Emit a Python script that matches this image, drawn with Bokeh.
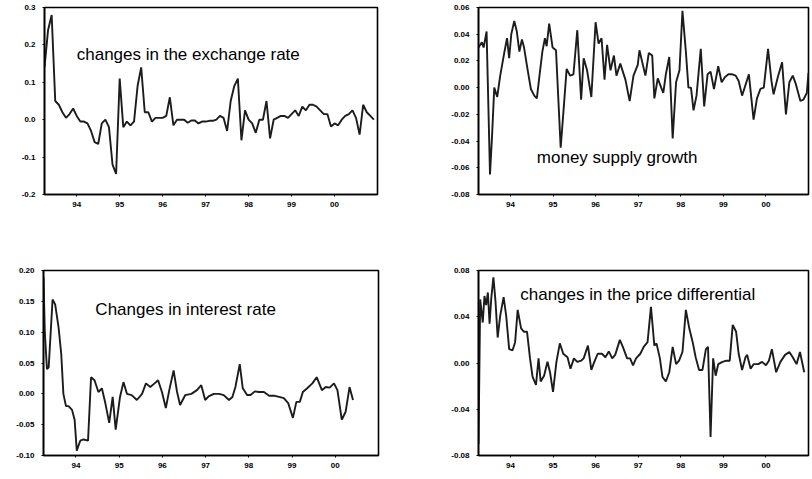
from bokeh.plotting import figure
from bokeh.layouts import column, row
from bokeh.models import FixedTicker, Range1d, Label, NumeralTickFormatter, CustomJSTickFormatter
from bokeh.embed import file_html
from bokeh.resources import INLINE

# ---------------- data ----------------
year_ticks = [1994, 1995, 1996, 1997, 1998, 1999, 2000]

# changes in the exchange rate (monthly, from 1993:04)
exch_months = [1993.25 + k / 12 for k in range(93)]
exch_vals = [0.14, 0.24, 0.28, 0.05, 0.04, 0.02, 0.005, 0.015, 0.03, 0.01,
             -0.005, -0.005, -0.01, -0.03, -0.06, -0.065, -0.01, 0.0, -0.02, -0.12,
             -0.145, 0.11, -0.02, -0.005, -0.015, -0.005, 0.09, 0.14, 0.02, 0.02,
             -0.005, 0.005, 0.005, 0.005, 0.01, 0.06, -0.015, 0.0, 0.0, 0.0,
             -0.008, -0.002, -0.002, -0.01, -0.005, -0.005, -0.003, -0.003, 0.0, 0.01,
             0.005, -0.03, 0.05, 0.09, 0.11, -0.055, 0.025, 0.0, -0.01, -0.035,
             0.0, 0.0, 0.05, -0.05, 0.0, 0.005, 0.01, 0.01, 0.005, 0.015,
             0.025, 0.01, 0.035, 0.025, 0.04, 0.04, 0.035, 0.025, 0.015, 0.015,
             -0.018, -0.01, -0.015, 0.0, 0.01, 0.015, 0.025, 0.005, -0.04, 0.04,
             0.02, 0.01, 0.0]

# money supply growth
money_dates = [1993.25, 1993.33, 1993.37, 1993.44, 1993.52, 1993.57, 1993.62, 1993.69, 1993.76, 1993.86,
               1993.92, 1993.97, 1994.02, 1994.09, 1994.15, 1994.21, 1994.27, 1994.32, 1994.40, 1994.48,
               1994.56, 1994.62, 1994.69, 1994.75, 1994.81, 1994.85, 1994.91, 1994.99, 1995.07, 1995.18,
               1995.24, 1995.32, 1995.40, 1995.48, 1995.57, 1995.66, 1995.72, 1995.80, 1995.90, 1996.00,
               1996.07, 1996.14, 1996.21, 1996.27, 1996.35, 1996.43, 1996.49, 1996.58, 1996.70, 1996.80,
               1996.89, 1996.99, 1997.03, 1997.17, 1997.25, 1997.33, 1997.38, 1997.46, 1997.54, 1997.59,
               1997.65, 1997.73, 1997.81, 1997.89, 1997.97, 1998.04, 1998.12, 1998.18, 1998.24, 1998.30,
               1998.37, 1998.47, 1998.55, 1998.63, 1998.70, 1998.78, 1998.88, 1998.96, 1999.04, 1999.12,
               1999.21, 1999.29, 1999.36, 1999.44, 1999.52, 1999.60, 1999.71, 1999.79, 1999.87, 1999.95,
               2000.05, 2000.13, 2000.18, 2000.28, 2000.38, 2000.47, 2000.55, 2000.63, 2000.70, 2000.81,
               2000.88, 2000.96, 2001.0]
money_vals = [0.03, 0.034, 0.03, 0.042, -0.065, -0.035, 0.0, -0.007, 0.009, 0.027,
              0.037, 0.022, 0.04, 0.05, 0.042, 0.027, 0.036, 0.03, 0.014, -0.001,
              -0.006, -0.008, 0.011, 0.027, 0.037, 0.031, 0.048, 0.03, 0.028, -0.045,
              -0.02, 0.014, 0.009, 0.01, 0.043, -0.009, 0.022, 0.013, -0.007, 0.049,
              0.033, 0.037, 0.006, 0.032, 0.013, 0.024, 0.009, 0.018, 0.006, -0.01,
              0.009, 0.017, 0.028, 0.009, 0.026, 0.024, -0.008, 0.007, 0.0, -0.004,
              0.010, 0.023, -0.038, 0.004, 0.013, 0.0575, 0.027, 0.0, 0.0, -0.017,
              -0.006, 0.029, -0.014, 0.010, 0.012, -0.001, 0.016, 0.004, 0.008, 0.010,
              0.010, 0.009, 0.005, -0.006, 0.002, 0.010, -0.024, -0.008, -0.001, 0.0,
              0.029, 0.005, -0.005, 0.008, 0.019, -0.020, 0.004, 0.009, 0.003, -0.010,
              -0.009, -0.004, 0.011]

# changes in interest rate
rate_dates = [1993.25, 1993.28, 1993.33, 1993.37, 1993.46, 1993.52, 1993.60, 1993.66, 1993.71, 1993.77,
              1993.83, 1993.91, 1993.97, 1994.02, 1994.10, 1994.18, 1994.28, 1994.35, 1994.43, 1994.52,
              1994.60, 1994.68, 1994.77, 1994.85, 1994.92, 1995.02, 1995.10, 1995.18, 1995.29, 1995.41,
              1995.53, 1995.62, 1995.72, 1995.82, 1995.90, 1995.99, 1996.08, 1996.16, 1996.26, 1996.34,
              1996.41, 1996.53, 1996.67, 1996.80, 1996.90, 1996.99, 1997.07, 1997.19, 1997.31, 1997.42,
              1997.54, 1997.62, 1997.69, 1997.79, 1997.86, 1997.96, 1998.04, 1998.14, 1998.23, 1998.35,
              1998.47, 1998.58, 1998.70, 1998.81, 1998.91, 1999.02, 1999.10, 1999.18, 1999.25, 1999.35,
              1999.47, 1999.57, 1999.69, 1999.78, 1999.87, 1999.97, 2000.05, 2000.15, 2000.24, 2000.33,
              2000.41]
rate_vals = [0.19, 0.10, 0.04, 0.043, 0.153, 0.145, 0.107, 0.065, 0.0, -0.02,
             -0.02, -0.026, -0.042, -0.092, -0.076, -0.074, -0.076, 0.027, 0.022, 0.003,
             0.009, -0.015, -0.047, -0.005, -0.058, -0.005, 0.019, 0.0, -0.002, -0.010,
             0.0, 0.017, 0.011, 0.017, 0.022, 0.003, -0.023, 0.006, 0.038, 0.003,
             -0.018, -0.002, 0.0, 0.006, 0.014, -0.010, -0.004, 0.0, 0.0, -0.002,
             -0.010, -0.005, 0.011, 0.048, 0.009, -0.002, -0.002, 0.004, 0.003, 0.003,
             -0.003, -0.003, -0.005, -0.007, -0.015, -0.039, -0.013, -0.013, 0.003, 0.009,
             0.017, 0.027, 0.006, 0.011, 0.010, 0.017, 0.006, -0.042, -0.029, 0.011,
             -0.010]

# changes in the price differential
price_dates = [1993.25, 1993.29, 1993.35, 1993.39, 1993.43, 1993.47, 1993.51, 1993.55, 1993.60, 1993.65,
               1993.70, 1993.76, 1993.84, 1993.90, 1993.97, 1994.05, 1994.11, 1994.17, 1994.25, 1994.32,
               1994.39, 1994.46, 1994.52, 1994.60, 1994.66, 1994.71, 1994.79, 1994.87, 1994.93, 1995.00,
               1995.08, 1995.16, 1995.24, 1995.34, 1995.41, 1995.49, 1995.57, 1995.66, 1995.72, 1995.82,
               1995.90, 1995.97, 1996.05, 1996.15, 1996.23, 1996.31, 1996.39, 1996.46, 1996.57, 1996.64,
               1996.74, 1996.81, 1996.88, 1996.95, 1997.05, 1997.13, 1997.22, 1997.30, 1997.38, 1997.43,
               1997.51, 1997.57, 1997.65, 1997.73, 1997.81, 1997.89, 1997.96, 1998.04, 1998.12, 1998.20,
               1998.28, 1998.35, 1998.43, 1998.51, 1998.59, 1998.64, 1998.70, 1998.76, 1998.82, 1998.88,
               1998.98, 1999.07, 1999.15, 1999.22, 1999.30, 1999.36, 1999.44, 1999.52, 1999.56, 1999.64,
               1999.71, 1999.82, 1999.91, 2000.00, 2000.07, 2000.14, 2000.24, 2000.34, 2000.45, 2000.55,
               2000.63, 2000.72, 2000.80, 2000.90]
price_vals = [-0.07, 0.055, 0.035, 0.058, 0.050, 0.061, 0.034, 0.056, 0.074, 0.053,
              0.022, 0.041, 0.057, 0.041, 0.012, 0.011, 0.018, 0.046, 0.030, 0.027,
              0.027, 0.004, -0.012, -0.019, 0.004, -0.016, -0.011, 0.001, -0.008, -0.025,
              0.001, 0.017, 0.008, 0.005, -0.005, 0.004, 0.001, 0.002, 0.004, 0.015,
              -0.006, 0.001, 0.008, 0.008, 0.005, 0.010, 0.004, 0.007, 0.020, 0.014,
              0.004, 0.004, -0.002, 0.004, 0.008, 0.014, 0.018, 0.0485, 0.015, 0.017,
              0.004, -0.012, -0.016, -0.008, 0.014, -0.001, 0.002, 0.0095, 0.046, 0.030,
              0.018, 0.005, -0.006, -0.006, 0.012, 0.014, -0.064, 0.004, -0.011, -0.001,
              0.001, 0.002, 0.002, 0.033, 0.027, 0.008, -0.006, 0.005, 0.007, -0.005,
              -0.001, -0.001, 0.001, -0.002, 0.002, 0.012, -0.008, 0.001, 0.007, 0.0095,
              0.005, -0.001, 0.0095, -0.008]

# ---------------- styling ----------------
FONT = "Liberation Sans"


def make_panel(xs, ys, y0, y1, yticks, yfmt, title, tx, ty,
               width, height, bl, br, bt, bb):
    p = figure(width=width, height=height, output_backend="svg", toolbar_location=None,
               x_range=Range1d(1993.25, 2001.0), y_range=Range1d(y0, y1),
               min_border_left=bl, min_border_right=br,
               min_border_top=bt, min_border_bottom=bb)
    p.line(xs, ys, line_color="#1c1c1c", line_width=1.9)
    p.xgrid.visible = False
    p.ygrid.visible = False
    p.outline_line_color = "black"
    p.outline_line_width = 1.6
    p.background_fill_color = "white"
    p.border_fill_color = "white"

    p.xaxis.ticker = FixedTicker(ticks=year_ticks)
    p.xaxis.formatter = CustomJSTickFormatter(code="return String(tick).slice(2);")
    p.yaxis.ticker = FixedTicker(ticks=yticks)
    p.yaxis.formatter = NumeralTickFormatter(format=yfmt)
    for ax in (p.xaxis[0], p.yaxis[0]):
        ax.axis_line_color = "black"
        ax.axis_line_width = 1.6
        ax.major_tick_line_color = "black"
        ax.major_tick_in = 0
        ax.major_tick_out = 2
        ax.minor_tick_line_color = None
        ax.major_label_text_font = FONT
        ax.major_label_text_font_size = "8px"
        ax.major_label_text_font_style = "bold"
        ax.major_label_text_color = "black"
    p.xaxis.major_label_standoff = 5
    p.yaxis.major_label_standoff = 7

    p.add_layout(Label(x=tx, y=ty, text=title, text_font=FONT, text_font_size="17px",
                       text_color="black", text_baseline="middle", text_align="left"))
    return p


p1 = make_panel(exch_months, exch_vals, -0.2, 0.3, [-0.2, -0.1, 0.0, 0.1, 0.2, 0.3], "0.0",
                "changes in the exchange rate", 1994.0, 0.175,
                410, 236, 44, 33, 7, 42)
p2 = make_panel(money_dates, money_vals, -0.08, 0.06,
                [-0.08, -0.06, -0.04, -0.02, 0.0, 0.02, 0.04, 0.06], "0.00",
                "money supply growth", 1994.62, -0.052,
                400, 236, 68, 2, 7, 42)
p3 = make_panel(rate_dates, rate_vals, -0.10, 0.20,
                [-0.10, -0.05, 0.0, 0.05, 0.10, 0.15, 0.20], "0.00",
                "Changes in interest rate", 1994.45, 0.136,
                410, 242, 43, 32, 34, 21)
p4 = make_panel(price_dates, price_vals, -0.08, 0.08,
                [-0.08, -0.04, 0.0, 0.04, 0.08], "0.00",
                "changes in the price differential", 1994.23, 0.059,
                400, 242, 68, 2, 32, 23)

layout = column(row(p1, p2), row(p3, p4))
open("out.html", "w").write(file_html(layout, INLINE))
